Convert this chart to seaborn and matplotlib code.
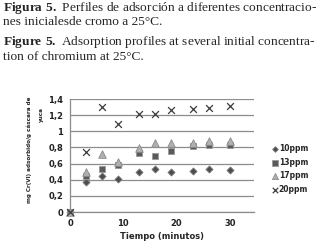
import numpy as np
import pandas as pd
import matplotlib
matplotlib.use("Agg")
import matplotlib.pyplot as plt
import seaborn as sns

# tiempo (min) y mg Cr(VI)/g
tiempo = [0, 3, 6, 9, 13, 16, 19, 23, 26, 30]
ppm10 = [0, 0.37, 0.44, 0.41, 0.50, 0.53, 0.49, 0.51, 0.53, 0.52]
ppm13 = [0, 0.45, 0.53, 0.58, 0.73, 0.69, 0.76, 0.82, 0.83, 0.83]
ppm17 = [0, 0.50, 0.72, 0.62, 0.79, 0.85, 0.86, 0.86, 0.88, 0.88]
ppm20 = [0, 0.74, 1.30, 1.09, 1.22, 1.21, 1.26, 1.27, 1.29, 1.31]
series = ["10ppm", "13ppm", "17ppm", "20ppm"]

df = pd.DataFrame({
    "t": tiempo * 4,
    "q": ppm10 + ppm13 + ppm17 + ppm20,
    "serie": np.repeat(series, len(tiempo)),
})

sns.set_style("white")
plt.rcParams["mathtext.fontset"] = "custom"
plt.rcParams["mathtext.bf"] = "Liberation Serif:bold"
plt.rcParams["mathtext.rm"] = "Liberation Serif"

fig = plt.figure(figsize=(3.36, 2.46), dpi=100)
ax = fig.add_axes([70 / 336, 1 - 212 / 246, 184 / 336, 113 / 246])

estilos = {
    "10ppm": dict(marker="D", s=13, color="#4d4d4d", edgecolor="#7a7a7a", linewidth=0.6),
    "13ppm": dict(marker="s", s=24, color="#5a5a5a", edgecolor="#9a9a9a", linewidth=0.6),
    "17ppm": dict(marker="^", s=30, color="#b0b0b0", edgecolor="#8a8a8a", linewidth=0.6),
    "20ppm": dict(marker="x", s=24, color="#3a3a3a", linewidth=0.9),
}
for s in series:
    sub = df[df["serie"] == s]
    sns.scatterplot(data=sub, x="t", y="q", ax=ax, label=s, zorder=3,
                    clip_on=False, **estilos[s])

ax.set_xlim(0, 34.5)
ax.set_ylim(0, 1.4)
ax.set_xticks([0, 10, 20, 30])
ax.set_yticks(np.arange(0, 1.41, 0.2))
ax.set_yticklabels(["0", "0,2", "0,4", "0,6", "0,8", "1", "1,2", "1,4"])
ax.yaxis.grid(True, color="#8c8c8c", linewidth=0.9)
ax.set_axisbelow(True)
for sp in ["top", "right"]:
    ax.spines[sp].set_visible(False)
for sp in ["left", "bottom"]:
    ax.spines[sp].set_color("#8c8c8c")
    ax.spines[sp].set_linewidth(0.9)
ax.tick_params(axis="x", length=3, color="#8c8c8c", labelsize=6, pad=2)
ax.tick_params(axis="y", length=0, labelsize=6, pad=5)
for lab in ax.get_xticklabels() + ax.get_yticklabels():
    lab.set_fontweight("bold")
    lab.set_color("#222222")

ax.set_xlabel("Tiempo (minutos)", fontsize=6, fontweight="bold", labelpad=3)
ax.set_ylabel("")
fig.text(29 / 336, 1 - 150 / 246, "mg Cr(VI) adsorbido/g cáscara de", rotation=90,
         fontsize=4.1, fontweight="bold", ha="center", va="center", color="#222222")
fig.text(41 / 336, 1 - 115 / 246, "yuca", rotation=90,
         fontsize=4.1, fontweight="bold", ha="center", va="center", color="#222222")

ax.legend(loc="center left", bbox_to_anchor=(1.07, 0.38), frameon=False,
          prop={"size": 5.5, "weight": "bold"}, handletextpad=0.05, labelspacing=0.6,
          handlelength=1.0, borderpad=0, markerscale=0.8)

serif = ["Liberation Serif", "DejaVu Serif"]
fs = 9.6
fig.text(0.01, 1 - 8 / 246, r"$\mathbf{Figura\ 5.}$ Perfiles de adsorción a diferentes concentracio-",
         family=serif, fontsize=fs, va="center", ha="left")
fig.text(0.01, 1 - 22 / 246, "nes inicialesde cromo a 25°C.",
         family=serif, fontsize=fs, va="center", ha="left")
fig.text(0.01, 1 - 42 / 246, r"$\mathbf{Figure\ 5.}$ Adsorption profiles at several initial concentra-",
         family=serif, fontsize=fs, va="center", ha="left")
fig.text(0.01, 1 - 57 / 246, "tion of chromium at 25°C.",
         family=serif, fontsize=fs, va="center", ha="left")

fig.savefig("out.png", dpi=100)
